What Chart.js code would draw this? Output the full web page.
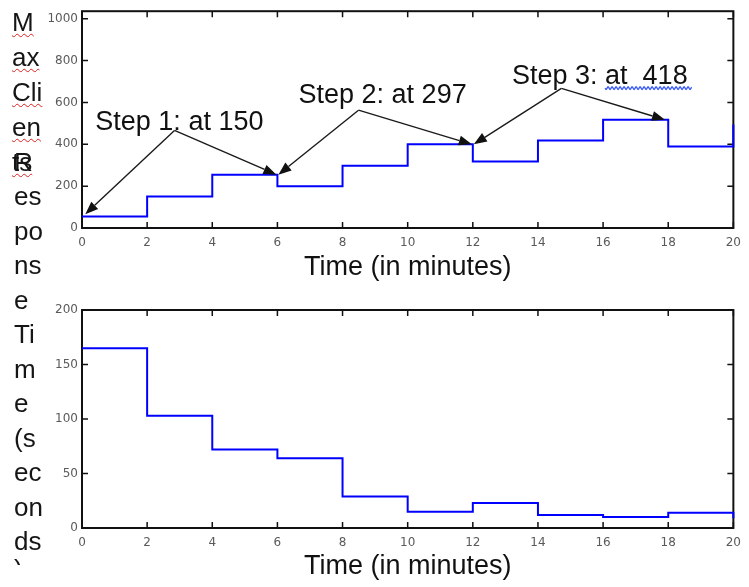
<!DOCTYPE html>
<html>
<head>
<meta charset="utf-8">
<script src="https://cdn.jsdelivr.net/npm/chart.js@4.4.1/dist/chart.umd.min.js"></script>
<style>
  body { margin: 0; background: #fff; width: 749px; height: 587px; overflow: hidden; position: relative; font-family: "Liberation Sans", Arial, sans-serif; }
  .wrap { position: absolute; left: 0; }
  .side { position: absolute; font-size: 26px; color: #151515; white-space: pre; }
  .side span { display: block; }
  .side span.spell { display: inline; text-decoration: underline wavy #e02020; text-decoration-thickness: 1px; text-underline-offset: 2px; }
</style>
</head>
<body>
<div class="wrap" style="top:0"><canvas id="clientsChart" width="749" height="290"></canvas></div>
<div class="wrap" style="top:290px"><canvas id="responseChart" width="749" height="297"></canvas></div>

<!-- the two y titles, wrapped in a narrow box like the original -->
<div class="side" style="left:12px;top:4.5px;line-height:35px"><span><span class="spell">M</span></span><span><span class="spell">ax</span></span><span><span class="spell">Cli</span></span><span><span class="spell">en</span></span><span><span class="spell">ts</span></span></div>
<div class="side" style="left:14px;top:144.75px;line-height:34.5px"><span>R</span><span>es</span><span>po</span><span>ns</span><span>e</span><span>Ti</span><span>m</span><span>e</span><span>(s</span><span>ec</span><span>on</span><span>ds</span></div>
<div class="side" style="left:14px;top:556px;height:9px;overflow:hidden;line-height:26px">)</div>

<script>
// data
const timeMinutes = [0, 2, 4, 6, 8, 10, 12, 14, 16, 18, 20];
const maxClients = [55, 150, 255, 200, 297, 400, 318, 418, 517, 390, 495];
const responseSeconds = [165, 103, 72, 64, 29, 15, 23, 12, 10, 14, 9];

const timeTicks = [0, 2, 4, 6, 8, 10, 12, 14, 16, 18, 20];
const clientTicks = [0, 200, 400, 600, 800, 1000];
const responseTicks = [0, 50, 100, 150, 200];

const stepLabels = ['Step 1: at 150', 'Step 2: at 297', 'Step 3: at  418'];

// where the step notes sit (data units) and where their arrows point
const stepLayout = [
  { x: 2.99, y: 470, apex: [2.84, 466], tips: [[0.1, 66], [5.97, 255]] },
  { x: 9.23, y: 597, apex: [8.49, 563], tips: [[6.03, 255], [11.97, 400]] },
  { x: 15.9, y: 690, apex: [14.72, 667], tips: [[12.03, 400], [17.9, 517]], wavy: 'Step 3: ' }
];

const tickFont = { family: '"DejaVu Sans", sans-serif', size: 12 };
const bigFont = { family: '"Liberation Sans", Arial, sans-serif', size: 27 };

function toPoints(xs, ys) {
  return xs.map((x, i) => ({ x: x, y: ys[i] }));
}

// MATLAB style box with inward ticks on all four sides
const boxFrame = {
  id: 'boxFrame',
  beforeDatasetsDraw(chart) {
    const { ctx, chartArea: a, scales: { x, y } } = chart;
    ctx.save();
    ctx.strokeStyle = '#111';
    ctx.lineWidth = 1.5;
    ctx.beginPath();
    x.ticks.forEach(t => {
      const px = x.getPixelForValue(t.value);
      ctx.moveTo(px, a.bottom); ctx.lineTo(px, a.bottom - 6);
      ctx.moveTo(px, a.top); ctx.lineTo(px, a.top + 6);
    });
    y.ticks.forEach(t => {
      const py = y.getPixelForValue(t.value);
      ctx.moveTo(a.left, py); ctx.lineTo(a.left + 6, py);
      ctx.moveTo(a.right, py); ctx.lineTo(a.right - 6, py);
    });
    ctx.stroke();
    ctx.lineWidth = 2;
    ctx.strokeRect(a.left, a.top, a.right - a.left, a.bottom - a.top);
    ctx.restore();
  }
};

function arrow(ctx, x0, y0, x1, y1) {
  const ang = Math.atan2(y1 - y0, x1 - x0);
  const head = 13, half = 5;
  const bx = x1 - head * Math.cos(ang), by = y1 - head * Math.sin(ang);
  ctx.beginPath();
  ctx.moveTo(x0, y0); ctx.lineTo(bx, by);
  ctx.stroke();
  ctx.beginPath();
  ctx.moveTo(x1, y1);
  ctx.lineTo(bx + half * Math.sin(ang), by - half * Math.cos(ang));
  ctx.lineTo(bx - half * Math.sin(ang), by + half * Math.cos(ang));
  ctx.closePath();
  ctx.fill();
}

const stepNotes = {
  id: 'stepNotes',
  afterDatasetsDraw(chart) {
    const { ctx, scales: { x, y } } = chart;
    ctx.save();
    ctx.strokeStyle = '#1a1a1a';
    ctx.fillStyle = '#111';
    ctx.lineWidth = 1.4;
    stepLayout.forEach((s, i) => {
      const ax = x.getPixelForValue(s.apex[0]), ay = y.getPixelForValue(s.apex[1]);
      s.tips.forEach(tp => arrow(ctx, ax, ay, x.getPixelForValue(tp[0]), y.getPixelForValue(tp[1])));

      ctx.font = bigFont.size + 'px ' + bigFont.family;
      ctx.textAlign = 'left';
      ctx.textBaseline = 'alphabetic';
      const w = ctx.measureText(stepLabels[i]).width;
      const left = x.getPixelForValue(s.x) - w / 2;
      const base = y.getPixelForValue(s.y);
      ctx.fillStyle = '#111';
      ctx.fillText(stepLabels[i], left, base);

      if (s.wavy) {
        // grammar-check squiggle under the double space
        const x0 = left + ctx.measureText(s.wavy).width;
        const x1 = left + w + 4;
        ctx.save();
        ctx.strokeStyle = '#3355ff';
        ctx.lineWidth = 1.2;
        ctx.beginPath();
        for (let px = x0; px <= x1; px += 0.5) {
          const py = base + 4.5 + 1.4 * Math.sin((px - x0) / 4 * Math.PI * 2);
          if (px === x0) ctx.moveTo(px, py); else ctx.lineTo(px, py);
        }
        ctx.stroke();
        ctx.restore();
      }
    });
    ctx.restore();
  }
};

function stepChart(canvasId, values, yMax, yTicks, padTop, xHeight, titlePad, extraPlugins) {
  return new Chart(document.getElementById(canvasId), {
    type: 'line',
    data: {
      datasets: [{
        data: toPoints(timeMinutes, values),
        stepped: 'before',
        borderColor: '#0000ff',
        borderWidth: 2,
        pointRadius: 0,
        fill: false,
        clip: 4
      }]
    },
    options: {
      responsive: false,
      animation: false,
      events: [],
      layout: { padding: { top: padTop, right: 9, left: 0, bottom: 0 } },
      plugins: { legend: { display: false }, tooltip: { enabled: false } },
      scales: {
        x: {
          type: 'linear',
          min: 0,
          max: 20,
          bounds: 'data',
          afterBuildTicks: s => { s.ticks = timeTicks.map(v => ({ value: v })); },
          afterFit: s => { s.height = xHeight; },
          grid: { display: false, drawTicks: false },
          border: { display: false },
          ticks: { font: tickFont, color: '#5a5a5a', padding: 8, maxRotation: 0, autoSkip: false, callback: v => String(v) },
          title: { display: true, text: 'Time (in minutes)', font: bigFont, color: '#111', padding: { top: 0, bottom: titlePad } }
        },
        y: {
          min: 0,
          max: yMax,
          bounds: 'data',
          afterBuildTicks: s => { s.ticks = yTicks.map(v => ({ value: v })); },
          afterFit: s => { s.width = 82; },
          grid: { display: false, drawTicks: false },
          border: { display: false },
          ticks: { font: tickFont, color: '#5a5a5a', padding: 4, callback: v => String(v) }
        }
      }
    },
    plugins: [boxFrame].concat(extraPlugins)
  });
}

const clientsChart = stepChart('clientsChart', maxClients, 1036, clientTicks, 6, 62, 6, [stepNotes]);
const responseChart = stepChart('responseChart', responseSeconds, 200, responseTicks, 20, 59, 4, []);
</script>
</body>
</html>
